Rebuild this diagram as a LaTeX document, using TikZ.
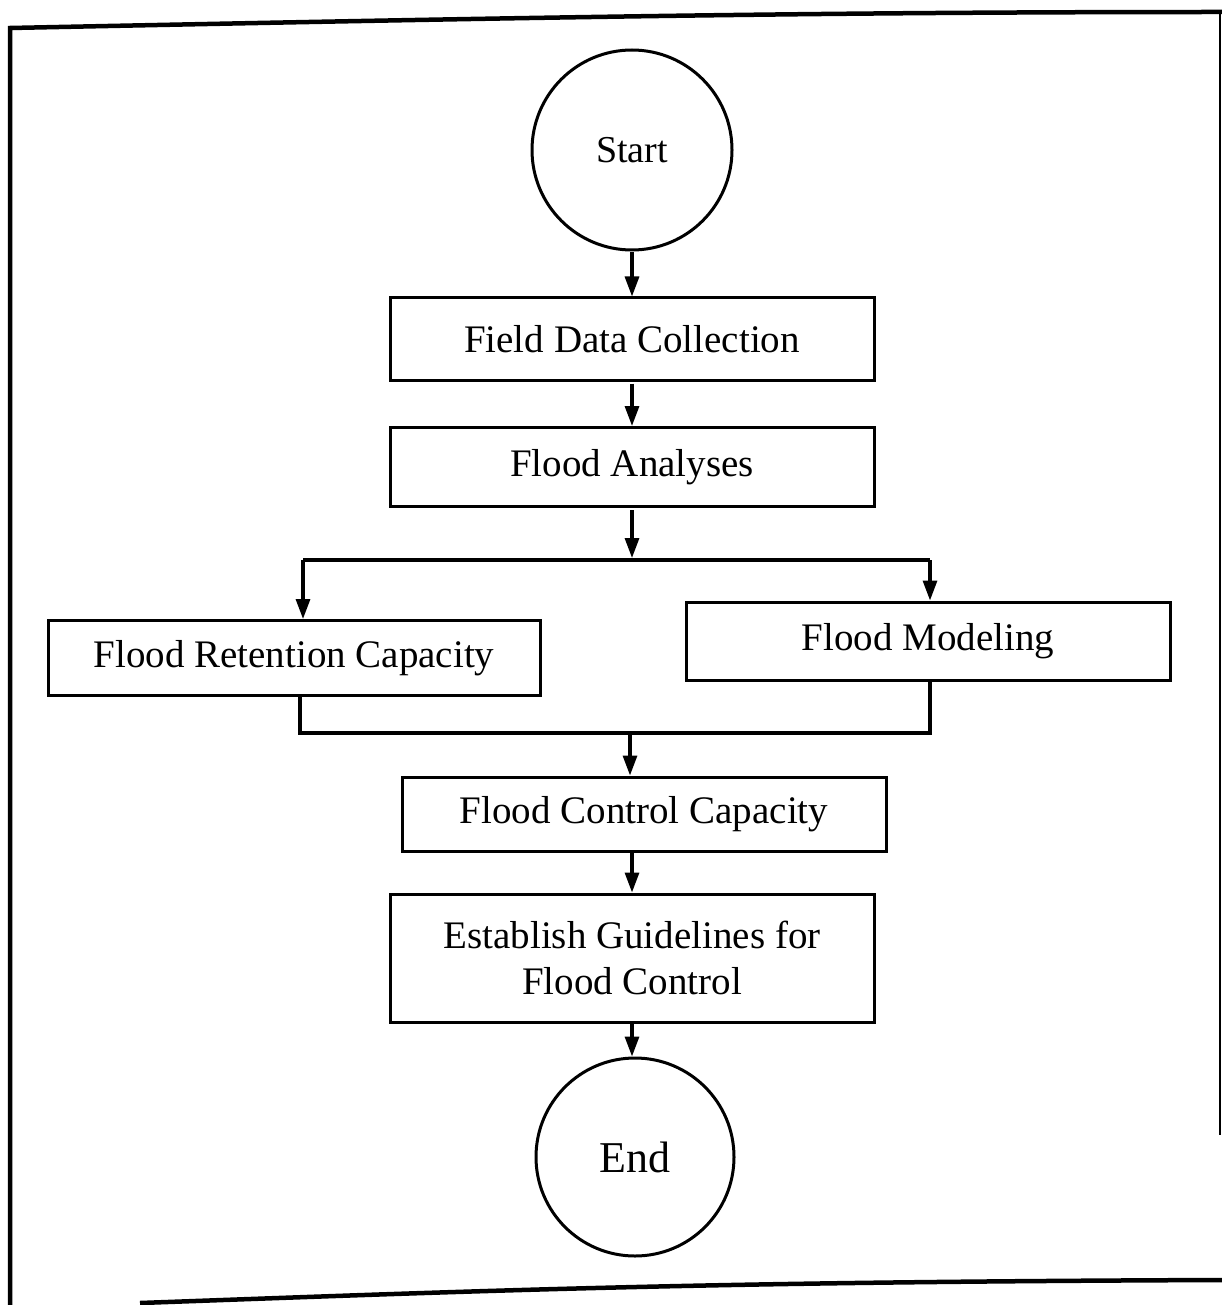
\documentclass[tikz,border=0pt]{standalone}
\usepackage{fontspec}
\setmainfont{Liberation Serif}
\usetikzlibrary{arrows.meta}
\begin{document}
\begin{tikzpicture}[x=1pt,y=-1pt,
  line width=3.2pt,
  procbox/.style={draw,rectangle,line width=3pt,minimum width=484pt,inner sep=0pt,font=\fontsize{39}{46}\selectfont,align=center},
  termcircle/.style={draw,circle,line width=3pt,minimum size=200pt,inner sep=0pt},
  flow/.style={-{Triangle[length=20pt,width=14pt]},line width=3.2pt},
  link/.style={line width=3.2pt}]
\useasboundingbox (0,0) rectangle (1222,1305);
% frame
\draw[line width=4.5pt] (10,1305) -- (10,28) .. controls (500,18) and (800,12) .. (1222,12);
\draw[line width=2.5pt] (1220,12) -- (1220,1135);
\draw[line width=4.5pt] (140,1303) .. controls (500,1290) and (700,1282) .. (1222,1280);
% nodes
\node[termcircle,font=\fontsize{38}{44}\selectfont] (start) at (632,150) {Start};
\node[procbox,minimum height=82pt] (fdc) at (632,339) {Field Data Collection};
\node[procbox,minimum height=79pt] (fa) at (632,467) {Flood Analyses};
\node[procbox,minimum width=492pt,minimum height=75pt] (frc) at (294,658) {Flood Retention Capacity};
\node[procbox,minimum height=78pt] (fm) at (928,641) {Flood Modeling};
\node[procbox,minimum height=74pt] (fcc) at (644,814) {Flood Control Capacity};
\node[procbox,minimum height=128pt] (eg) at (632,958) {Establish Guidelines for\\Flood Control};
\node[termcircle,minimum size=198pt,font=\fontsize{44}{50}\selectfont] (end) at (635,1157) {End};
% coordinates
\coordinate (split) at (632,558);
\coordinate (splitL) at (303,560);
\coordinate (splitR) at (930,560);
\coordinate (mergeL) at (300,733);
\coordinate (mergeR) at (930,733);
\coordinate (merge) at (630,733);
% connectors
\draw[flow] ([yshift=-1pt]start.south) -- ++(0,44);
\draw[flow] ([yshift=-2pt]fdc.south) -- (fa.north);
\draw[flow] ([yshift=-2pt]fa.south) -- (split);
\draw[link] (splitL) -- (splitR);
\draw[flow] (splitL) -- (splitL |- frc.north);
\draw[flow] (splitR) -- (splitR |- fm.north);
\draw[link] (mergeL |- frc.south) -- (mergeL) -- (mergeR) -- (mergeR |- fm.south);
\draw[flow] (merge) -- (merge |- fcc.north);
\draw[flow] (fcc.south -| eg.north) -- (eg.north);
\draw[flow] (eg.south) -- (eg.south |- end.north);
\end{tikzpicture}
\end{document}
